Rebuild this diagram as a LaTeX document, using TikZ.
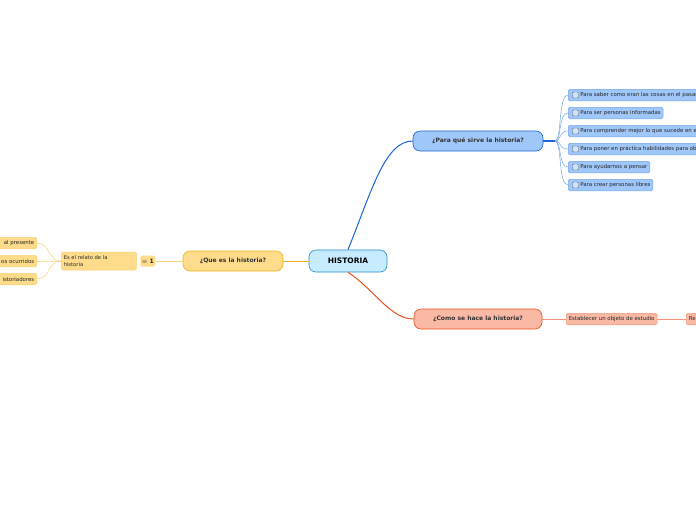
\documentclass[tikz,border=0pt]{standalone}
\usepackage{fontspec}
\setmainfont{DejaVu Sans}
\definecolor{hcyan}{RGB}{199,236,255}
\definecolor{hcyanD}{RGB}{40,140,210}
\definecolor{pblue}{RGB}{160,199,250}
\definecolor{pblueD}{RGB}{30,100,210}
\definecolor{pblueL}{RGB}{120,165,235}
\definecolor{cred}{RGB}{250,185,165}
\definecolor{credD}{RGB}{235,80,30}
\definecolor{credL}{RGB}{240,150,125}
\definecolor{qyel}{RGB}{255,220,140}
\definecolor{qyelD}{RGB}{240,180,30}
\definecolor{qyelL}{RGB}{250,210,120}
\begin{document}
\begin{tikzpicture}[x=1pt,y=-1pt,
  main/.style={draw=hcyanD, fill=hcyan, rounded corners=7pt, minimum width=78pt, minimum height=22pt, line width=0.6pt, font=\bfseries\fontsize{7.5}{9}\selectfont},
  topic/.style={rounded corners=7pt, minimum height=20pt, line width=0.6pt, font=\bfseries\fontsize{6}{7}\selectfont, text=black!80},
  sub/.style={rounded corners=1.5pt, minimum height=11.5pt, inner sep=2.5pt, anchor=west, line width=0.5pt, font=\fontsize{5.4}{6.5}\selectfont, text=black!85},
  bluesub/.style={sub, draw=pblueL, fill=pblue},
  redsub/.style={sub, draw=credL, fill=cred},
  yelsub/.style={sub, draw=qyelL, fill=qyel},
  box/.style={draw=black!60, fill=pblue!50, rounded corners=1pt, minimum size=6pt, inner sep=0pt}]
\useasboundingbox (0,0) rectangle (696,520);
\clip (0,0) rectangle (696,520);
\node[main] (hist) at (348,261) {HISTORIA};
\node[topic, draw=pblueD, fill=pblue, minimum width=130pt] (para) at (478,141) {¿Para qué sirve la historia?};
\node[topic, draw=credD, fill=cred, minimum width=128pt] (como) at (478,319) {¿Como se hace la historia?};
\node[topic, draw=qyelD, fill=qyel, minimum width=100pt] (que) at (233,261) {¿Que es la historia?};

\draw[pblueD, line width=1pt] (hist.north) .. controls (372,190) and (385,141) .. (para.west);
\draw[credD, line width=1pt] (hist.south) .. controls (375,290) and (390,319) .. (como.west);
\draw[qyelD, line width=1pt] (hist.west) -- (que.east);

% para que sirve
\foreach \t [count=\i] in {Para saber como eran las cosas  en el pasado, Para ser personas informadas, Para comprender mejor lo que sucede en el presente, Para poner en práctica habilidades para obtener información, Para ayudarnos a pensar, Para crear personas libres}{
  \node[bluesub] (p\i) at (568,77+18*\i) {\hspace{9.5pt}\t};
  \node[box] at ([xshift=7.5pt]p\i.west) {};
  \draw[pblueL, line width=0.5pt] (555,141) .. controls (562,141) and (558,77+18*\i) .. (p\i.west);
}
\draw[pblueD, line width=1.2pt] (para.east) -- (555,141);

% como se hace
\node[redsub] (est) at (566,319) {Establecer un objeto de estudio};
\node[redsub] (re) at (686,319) {Re};
\draw[credL, line width=0.5pt] (como.east) -- (est.west);
\draw[credL, line width=0.5pt] (est.east) -- (re.west);

% que es
\node[yelsub, text width=70pt, minimum height=18pt, align=left, font=\fontsize{5.2}{6.5}\selectfont] (rel) at (61,261) {Es el relato de la\\historia};
\node[sub, fill=qyel, minimum height=11pt, inner sep=1.5pt, font=\bfseries\fontsize{6}{7}\selectfont] (cnt) at (140,261) {$\equiv$ 1};
\draw[qyelL, line width=0.5pt] (cnt.east) -- (que.west);
\foreach \t/\y [count=\i] in {al presente/243, os ocurridos/261, istoriadores/279}{
  \node[yelsub, anchor=east, text width=40pt, align=right] (q\i) at (37,\y) {\t};
  \draw[qyelL, line width=0.5pt] (rel.west) .. controls (48,261) and (50,\y) .. (q\i.east);
}
\end{tikzpicture}
\end{document}
